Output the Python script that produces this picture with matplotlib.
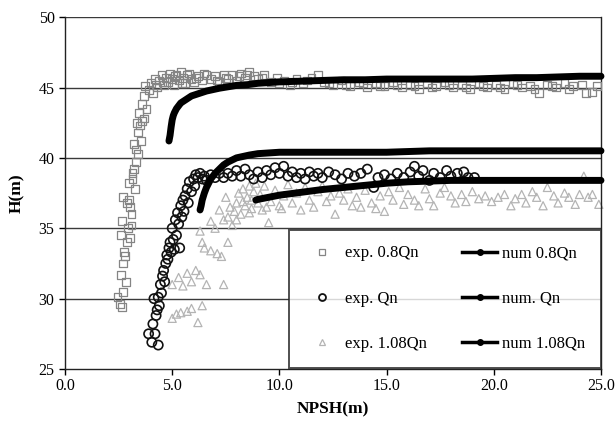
import matplotlib
matplotlib.use("Agg")
import matplotlib.pyplot as plt
from matplotlib.lines import Line2D

# ---- experimental 0.8Qn (squares) ----
exp08_x = [2.45, 2.55, 2.6, 2.65, 2.7, 2.7, 2.75, 2.6, 2.65, 2.7, 2.8, 2.85, 2.9, 2.9, 2.95,
           3.0, 3.05, 3.1, 3.0, 3.1, 3.15, 3.2, 3.25, 3.3, 3.2, 3.3, 3.35, 3.4, 3.45, 3.5,
           3.55, 3.6, 3.7, 3.7, 3.75, 3.8, 3.9, 4.0, 4.1, 4.2, 4.3, 4.4, 4.5, 4.6, 4.7,
           4.8, 4.9, 5.0, 5.1, 5.2, 5.3, 5.4, 5.5, 5.6, 5.7, 5.8, 5.9, 6.0, 6.2, 6.4,
           6.6, 6.8, 7.0, 7.2, 7.4, 7.6, 7.8, 8.0, 8.2, 8.4, 8.6, 8.8, 9.0, 9.3, 9.6,
           9.9, 10.2, 10.5, 10.8, 11.1, 11.5, 11.8, 12.1, 12.5, 12.9, 13.3, 13.7, 14.1, 14.5, 14.9,
           15.3, 15.7, 16.1, 16.5, 16.9, 17.3, 17.7, 18.1, 18.5, 18.9, 19.3, 19.7, 20.1, 20.5, 20.9,
           21.3, 21.7, 22.1, 22.5, 22.9, 23.3, 23.7, 24.1, 24.3, 24.6, 24.8,
           3.05, 3.15, 3.4, 3.6, 4.25, 4.55, 5.15, 5.45, 6.1, 6.5, 7.1, 7.5, 8.1, 8.5, 9.2,
           10.0, 10.6, 11.3, 12.3, 13.1, 13.9, 14.7, 15.5, 16.3, 17.1, 17.9, 18.7, 19.5, 20.3, 21.1,
           21.9, 22.7, 23.5]
exp08_y = [30.1, 29.6, 31.7, 29.4, 30.5, 32.5, 33.3, 34.5, 35.5, 37.2, 33.0, 31.2, 34.0, 36.8, 35.0,
           37.0, 34.3, 35.2, 38.2, 36.0, 38.5, 39.2, 37.8, 39.7, 41.0, 40.6, 42.5, 41.8, 43.2, 42.3,
           41.2, 43.8, 42.8, 44.4, 45.1, 43.5, 44.8, 45.3, 44.6, 45.6, 45.0, 45.5, 45.9, 45.2, 45.7,
           45.4, 46.0, 45.6, 45.2, 45.9, 45.5, 46.1, 45.7, 45.3, 45.9, 46.0, 45.6, 45.4, 45.8, 45.5,
           45.9, 45.6, 45.8, 45.4, 45.9, 45.6, 45.9, 45.5, 46.0, 45.7, 46.1, 45.8, 45.6, 45.9, 45.4,
           45.7, 45.5, 45.2, 45.6, 45.3, 45.7, 45.9, 45.4, 45.2, 45.5, 45.1, 45.4, 45.0, 45.3, 45.1,
           45.4, 45.0, 45.2, 44.9, 45.3, 45.1, 45.4, 45.0, 45.2, 44.9, 45.3, 45.0, 45.2, 44.9, 45.3,
           45.0, 45.1, 44.6, 45.2, 45.0, 45.3, 45.1, 45.2, 44.6, 44.7, 45.1,
           36.5, 38.9, 40.3, 42.6, 45.2, 45.4, 45.8, 45.3, 45.7, 46.0, 45.5, 45.7, 45.8, 45.9, 45.7,
           45.3, 45.4, 45.5, 45.3, 45.2, 45.3, 45.1, 45.2, 45.1, 45.0, 45.2, 45.0, 45.1, 45.0, 45.2,
           44.9, 45.1, 44.9]

# ---- experimental Qn (circles) ----
expQn_x = [3.9, 4.05, 4.2, 4.35, 4.1, 4.15, 4.25, 4.3, 4.35, 4.4, 4.45, 4.5, 4.55, 4.6, 4.65,
           4.7, 4.75, 4.8, 4.85, 4.9, 4.95, 5.0, 5.05, 5.1, 5.15, 5.2, 5.25, 5.3, 5.35, 5.4,
           5.45, 5.5, 5.55, 5.6, 5.7, 5.75, 5.8, 5.9, 6.0, 6.05, 6.1, 6.2, 6.3, 6.4, 6.5,
           6.6, 6.8, 7.0, 7.2, 7.4, 7.6, 7.8, 8.0, 8.2, 8.4, 8.6, 8.8, 9.0, 9.2, 9.4,
           9.6, 9.8, 10.0, 10.2, 10.4, 10.6, 10.8, 11.0, 11.2, 11.4, 11.6, 11.8, 12.0, 12.3, 12.6,
           12.9, 13.2, 13.5, 13.8, 14.1, 14.4, 14.6, 14.9, 15.2, 15.5, 15.8, 16.1, 16.3, 16.5, 16.7,
           17.0, 17.2, 17.5, 17.8, 18.0, 18.3, 18.6, 18.8, 19.1]
expQn_y = [27.5, 26.9, 27.5, 26.7, 28.2, 30.0, 28.8, 29.2, 30.1, 29.5, 31.0, 30.4, 31.6, 32.0, 31.2,
           32.5, 33.1, 32.8, 33.6, 34.0, 33.3, 35.0, 34.2, 33.5, 35.6, 34.5, 36.1, 35.3, 33.6, 36.6,
           35.8, 37.0, 36.2, 37.3, 37.8, 36.8, 38.3, 37.6, 38.5, 38.0, 38.8, 38.6, 38.9, 38.5, 38.7,
           38.4, 38.8, 38.6, 38.9, 38.6, 38.9, 38.7, 39.1, 38.7, 39.2, 38.8, 38.5, 39.0, 38.6, 39.1,
           38.8, 39.3, 38.9, 39.4, 38.7, 39.0, 38.6, 38.9, 38.5, 39.0, 38.7, 38.9, 38.6, 39.0, 38.8,
           38.5, 38.9, 38.7, 38.9, 39.2, 37.9, 38.6, 38.8, 38.5, 38.9, 38.6, 39.0, 39.4, 38.7, 39.1,
           38.4, 38.9, 38.6, 39.1, 38.7, 38.9, 39.0, 38.6, 38.6]

# ---- experimental 1.08Qn (triangles) ----
exp108_x = [5.0, 5.2, 5.4, 5.7, 5.9, 6.2, 6.4, 5.0, 5.3, 5.5, 5.7, 5.9, 6.1, 6.3, 6.6,
            6.8, 7.1, 7.3, 7.6, 7.4, 6.3, 6.5, 6.4, 6.8, 7.0, 7.2, 7.4, 7.5, 7.7, 7.8,
            8.0, 8.1, 8.2, 8.3, 8.4, 8.5, 8.6, 8.7, 8.8, 8.9, 9.0, 9.1, 9.3, 9.5, 9.6,
            9.8, 10.0, 10.2, 10.4, 10.6, 10.8, 11.0, 11.2, 11.4, 11.6, 11.8, 12.0, 12.2, 12.4, 12.6,
            12.8, 13.0, 13.2, 13.4, 13.6, 13.8, 14.0, 14.3, 14.5, 14.7, 14.9, 15.1, 15.3, 15.6, 15.8,
            16.0, 16.3, 16.5, 16.8, 17.0, 17.2, 17.5, 17.7, 18.0, 18.2, 18.5, 18.7, 19.0, 19.3, 19.6,
            19.9, 20.2, 20.5, 20.8, 21.0, 21.3, 21.5, 21.8, 22.0, 22.3, 22.5, 22.8, 23.0, 23.3, 23.5,
            23.8, 24.0, 24.2, 24.4, 24.6, 24.9,
            7.9, 8.3, 8.7, 9.2, 7.6, 8.0, 8.6, 9.4, 10.1]
exp108_y = [28.6, 28.9, 29.0, 29.1, 29.3, 28.3, 29.5, 31.0, 31.5, 30.9, 31.8, 31.2, 32.0, 31.7, 31.0,
            33.4, 33.2, 33.0, 34.0, 31.0, 34.8, 33.6, 34.0, 35.5, 35.0, 36.3, 35.6, 37.2, 36.5, 35.2,
            36.8, 37.5, 36.0, 37.8, 36.6, 37.2, 38.0, 36.4, 37.6, 38.2, 36.8, 37.4, 38.0, 35.4, 36.9,
            37.7, 36.6, 37.3, 38.1, 36.8, 37.5, 36.3, 37.9, 37.0, 36.5, 37.6, 38.0, 36.9, 37.3, 36.0,
            37.5, 37.0, 37.8, 36.6, 37.2, 36.5, 37.7, 36.8, 36.4, 37.3, 36.2, 37.6, 37.0, 37.9, 36.7,
            37.4, 37.0, 36.6, 37.8, 37.1, 36.6, 37.5, 37.9, 37.3, 36.8, 37.4, 36.9, 37.6, 37.1, 37.3,
            36.9, 37.2, 37.4, 36.6, 37.1, 37.4, 36.8, 37.6, 37.2, 36.6, 37.9, 37.3, 36.8, 37.5, 37.2,
            36.7, 37.4, 38.7, 37.2, 37.4, 36.7,
            36.2, 36.9, 37.0, 36.3, 35.8, 35.6, 36.1, 36.5, 36.4]

# ---- numerical curves ----
num08_x = [4.85, 4.9, 4.95, 5.0, 5.05, 5.1, 5.2, 5.3, 5.4, 5.5, 5.7, 5.9, 6.1, 6.3, 6.6,
           6.9, 7.2, 7.6, 8.0, 8.5, 9.0, 9.5, 10.0, 11.0, 12.0, 13.0, 14.0, 15.0, 16.0, 17.0,
           18.0, 19.0, 20.0, 21.0, 22.0, 23.0, 24.0, 25.0]
num08_y = [41.2, 41.6, 42.2, 42.7, 43.0, 43.2, 43.5, 43.7, 43.9, 44.0, 44.2, 44.4, 44.5, 44.6, 44.75,
           44.85, 44.95, 45.05, 45.15, 45.2, 45.3, 45.35, 45.4, 45.45, 45.5, 45.55, 45.55, 45.6, 45.6, 45.6,
           45.6, 45.6, 45.65, 45.7, 45.7, 45.75, 45.8, 45.8]

numQn_x = [6.3, 6.35, 6.4, 6.5, 6.6, 6.7, 6.8, 7.0, 7.2, 7.4, 7.6, 7.8, 8.0, 8.3, 8.6,
           9.0, 9.5, 10.0, 11.0, 12.0, 13.0, 14.0, 15.0, 16.0, 17.0, 18.0, 19.0, 20.0, 21.0, 22.0,
           23.0, 24.0, 25.0]
numQn_y = [36.3, 36.6, 37.0, 37.5, 37.9, 38.2, 38.5, 38.9, 39.2, 39.5, 39.7, 39.85, 40.0, 40.1, 40.2,
           40.3, 40.35, 40.4, 40.4, 40.4, 40.4, 40.4, 40.4, 40.45, 40.5, 40.5, 40.5, 40.5, 40.5, 40.5,
           40.5, 40.5, 40.5]

num108_x = [8.9, 9.0, 9.5, 10.0, 11.0, 12.0, 13.0, 14.0, 15.0, 16.0, 17.0, 18.0, 19.0, 20.0, 21.0,
            22.0, 23.0, 24.0, 25.0]
num108_y = [37.0, 37.05, 37.2, 37.35, 37.55, 37.75, 37.9, 38.05, 38.2, 38.3, 38.35, 38.4, 38.4, 38.4, 38.4,
            38.4, 38.4, 38.4, 38.4]

x_ticks = [0, 5, 10, 15, 20, 25]
x_tick_labels = ["0.0", "5.0", "10.0", "15.0", "20.0", "25.0"]
y_ticks = [25, 30, 35, 40, 45, 50]
legend_labels = ['exp. 0.8Qn', 'exp. Qn', 'exp. 1.08Qn', 'num 0.8Qn', 'num. Qn', 'num 1.08Qn']

plt.rcParams['font.family'] = ['Liberation Serif', 'DejaVu Serif']

fig = plt.figure(figsize=(6.16, 4.36), dpi=100)
ax = fig.add_axes([0.1055, 0.1537, 0.8701, 0.807])

ax.set_xlim(0, 25)
ax.set_ylim(25, 50)

for yv in y_ticks[1:]:
    ax.axhline(yv, color='#3a3a3a', lw=1.0, zorder=1)

ax.scatter(exp108_x, exp108_y, marker='^', s=34, facecolors='none', edgecolors='#b4b4b4',
           linewidths=0.9, zorder=2, clip_on=False)
ax.scatter(exp08_x, exp08_y, marker='s', s=32, facecolors='none', edgecolors='#858585',
           linewidths=0.9, zorder=3, clip_on=False)
ax.scatter(expQn_x, expQn_y, marker='o', s=44, facecolors='none', edgecolors='#111111',
           linewidths=1.2, zorder=4)

for xs, ys in [(num08_x, num08_y), (numQn_x, numQn_y), (num108_x, num108_y)]:
    ax.plot(xs, ys, color='black', lw=5, solid_capstyle='round', zorder=5, clip_on=False)

ax.set_xticks(x_ticks)
ax.set_xticklabels(x_tick_labels)
ax.set_yticks(y_ticks)
ax.tick_params(axis='both', direction='out', length=4.5, width=1.0, labelsize=11.5, pad=3)
ax.tick_params(axis='x', pad=2)

for side in ['left', 'bottom', 'right']:
    ax.spines[side].set_color('#222222')
    ax.spines[side].set_linewidth(1.0)
ax.spines['top'].set_visible(False)

ax.set_xlabel('NPSH(m)', fontsize=12.5, fontweight='bold', labelpad=5)
ax.set_ylabel('H(m)', fontsize=12.5, fontweight='bold', labelpad=10)

# legend
h_sq = Line2D([], [], ls='none', marker='s', ms=5, mfc='none', mec='#858585', mew=0.9)
h_ci = Line2D([], [], ls='none', marker='o', ms=5, mfc='none', mec='#111111', mew=1.3)
h_tr = Line2D([], [], ls='none', marker='^', ms=5, mfc='none', mec='#b4b4b4', mew=0.9)
h_n = Line2D([], [], color='black', lw=2.5, marker='o', ms=4)
leg = ax.legend([h_sq, h_ci, h_tr, h_n, h_n, h_n], legend_labels,
                ncol=2, loc='lower left', bbox_to_anchor=(0.418, 0.004, 0.582, 0.4),
                mode='expand', fontsize=12, frameon=True, fancybox=False,
                handlelength=2.1, handletextpad=0.3, labelspacing=1.75,
                borderpad=0.95, borderaxespad=0.0)
leg.get_frame().set_edgecolor('#222222')
leg.get_frame().set_linewidth(1.4)
leg.set_zorder(10)

fig.savefig('out.png', dpi=100)
